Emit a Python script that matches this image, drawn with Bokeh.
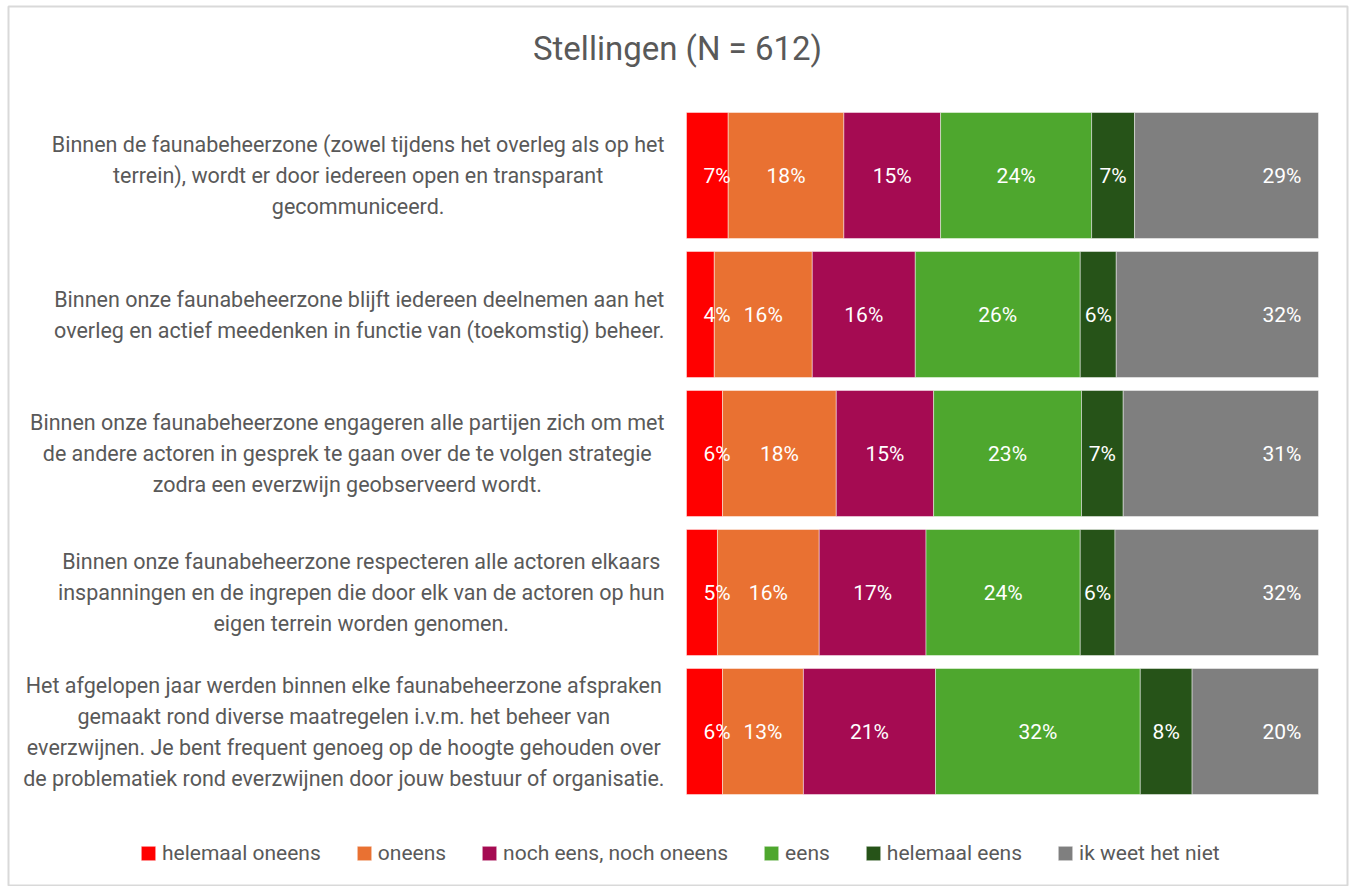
from bokeh.plotting import figure
from bokeh.models import ColumnDataSource, Legend, LegendItem, Range1d, Label
from bokeh.embed import file_html
from bokeh.resources import INLINE
from bokeh.core.properties import value

# ---------------- data ----------------
title_text = "Stellingen (N = 612)"
statements = [
    "Binnen de faunabeheerzone (zowel tijdens het overleg als op het\nterrein), wordt er door iedereen open en transparant\ngecommuniceerd.",
    "Binnen onze faunabeheerzone blijft iedereen deelnemen aan het\noverleg en actief meedenken in functie van (toekomstig) beheer.",
    "Binnen onze faunabeheerzone engageren alle partijen zich om met\nde andere actoren in gesprek te gaan over de te volgen strategie\nzodra een everzwijn geobserveerd wordt.",
    "Binnen onze faunabeheerzone respecteren alle actoren elkaars\ninspanningen en de ingrepen die door elk van de actoren op hun\neigen terrein worden genomen.",
    "Het afgelopen jaar werden binnen elke faunabeheerzone afspraken\ngemaakt rond diverse maatregelen i.v.m. het beheer van\neverzwijnen. Je bent frequent genoeg op de hoogte gehouden over\nde problematiek rond everzwijnen door jouw bestuur of organisatie.",
]
responses = ["helemaal oneens", "oneens", "noch eens, noch oneens",
             "eens", "helemaal eens", "ik weet het niet"]
helemaal_oneens = [6.6, 4.4, 5.7, 4.9, 5.7]
oneens = [18.3, 15.5, 18.0, 16.1, 12.8]
noch_eens_noch_oneens = [15.3, 16.3, 15.4, 16.9, 20.9]
eens = [23.9, 26.1, 23.4, 24.4, 32.4]
helemaal_eens = [6.8, 5.7, 6.6, 5.5, 8.2]
ik_weet_het_niet = [29.1, 32.0, 30.9, 32.2, 20.0]

series = [helemaal_oneens, oneens, noch_eens_noch_oneens, eens, helemaal_eens, ik_weet_het_niet]
colors = ["#FF0000", "#E97132", "#A50B52", "#4EA72E", "#265318", "#7F7F7F"]

# ---------------- layout helpers ----------------
W, H = 1353, 886
FRAME_L, FRAME_R, FRAME_T, FRAME_B = 8, 1347, 6, 886   # page px of chart border
BAR_X0, BAR_X1 = 686, 1318          # page px where 0% and 100% fall
ROW0_CY, ROW_STEP = 175, 139        # page px of first bar centre, row pitch
n = len(statements)

def xd(px):
    return (px - BAR_X0) * 100.0 / (BAR_X1 - BAR_X0)

def yd(py):
    return (n - 1) - (py - ROW0_CY) / ROW_STEP

TEXT_COL = "#595959"
FONT = "Roboto"

p = figure(width=W, height=H, output_backend="svg", toolbar_location=None,
           x_range=Range1d(xd(FRAME_L), xd(FRAME_R)),
           y_range=Range1d(yd(FRAME_B), yd(FRAME_T)),
           min_border_left=FRAME_L, min_border_right=W - FRAME_R,
           min_border_top=FRAME_T, min_border_bottom=H - FRAME_B, tools="")
p.xaxis.visible = False
p.yaxis.visible = False
p.xgrid.visible = False
p.ygrid.visible = False
p.outline_line_color = "#D9D9D9"
p.outline_line_width = 2
p.background_fill_color = "white"
p.border_fill_color = "white"

keys = ["s%d" % i for i in range(len(series))]
data = {"ypos": [n - 1 - i for i in range(n)], "statement": statements}
for k, s in zip(keys, series):
    data[k] = s
source = ColumnDataSource(data)

renderers = p.hbar_stack(keys, y="ypos", height=126 / ROW_STEP, color=colors,
                         source=source, line_color="white", line_alpha=0.45,
                         line_width=1)

# data labels
lx, ly, lt, la, lo = [], [], [], [], []
for j in range(n):
    left = 0.0
    for i, s in enumerate(series):
        v = s[j]
        txt = "%d%%" % int(v + 0.5)
        if i == 0:
            lx.append(left); la.append("left"); lo.append(17)
        elif i == len(series) - 1:
            lx.append(left + v); la.append("right"); lo.append(-17)
        else:
            lx.append(left + v / 2.0); la.append("center"); lo.append(0)
        ly.append(n - 1 - j)
        lt.append(txt)
        left += v
lab_src = ColumnDataSource(dict(x=lx, y=ly, text=lt, align=la, off=lo))
p.text(x="x", y="y", text="text", source=lab_src, text_align="align",
       x_offset="off", text_baseline="middle", text_color="white",
       text_font=value(FONT), text_font_size="21px")

# statement labels
p.text(x=xd(664), y="ypos", text="statement", source=source,
       anchor="center_right", text_align="center", text_baseline="middle",
       text_color=TEXT_COL, text_font=value(FONT), text_font_size="21.5px",
       text_line_height=1.24)

# title
p.add_layout(Label(x=xd(677), y=yd(48), text=title_text, text_align="center",
                   text_baseline="middle", text_color=TEXT_COL,
                   text_font=FONT, text_font_size="33px"))

# legend
items = [LegendItem(label=r_lab, renderers=[r]) for r_lab, r in zip(responses, renderers)]
legend = Legend(items=items, orientation="horizontal", location=(131, 21),
                glyph_width=18, glyph_height=18, label_standoff=5, spacing=34,
                padding=0, margin=0, border_line_color=None,
                background_fill_alpha=0, label_text_font=FONT,
                label_text_font_size="21px", label_text_color=TEXT_COL,
                label_height=20)
p.add_layout(legend)

open("out.html", "w").write(file_html(p, INLINE))
